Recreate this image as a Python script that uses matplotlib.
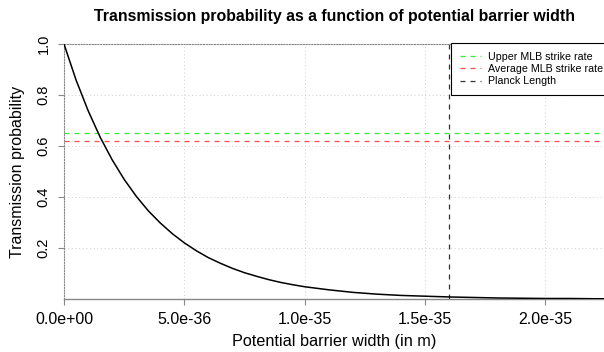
import matplotlib
matplotlib.use("Agg")
import matplotlib.pyplot as plt

# Curve values (width in m, transmission probability)
width_m = [0.0, 0.5e-36, 1.0e-36, 1.5e-36, 2.0e-36, 2.5e-36, 3.0e-36, 3.5e-36,
           4.0e-36, 4.5e-36, 5.0e-36, 5.5e-36, 6.0e-36, 6.5e-36, 7.0e-36,
           7.5e-36, 8.0e-36, 8.5e-36, 9.0e-36, 9.5e-36, 1.0e-35, 1.1e-35,
           1.2e-35, 1.3e-35, 1.4e-35, 1.5e-35, 1.6e-35, 1.7e-35, 1.8e-35,
           1.9e-35, 2.0e-35, 2.1e-35, 2.2e-35, 2.3e-35]
transmission = [1.000, 0.859, 0.739, 0.635, 0.546, 0.469, 0.403, 0.346,
                0.298, 0.256, 0.220, 0.189, 0.162, 0.140, 0.120,
                0.103, 0.089, 0.076, 0.065, 0.056, 0.048, 0.036,
                0.026, 0.019, 0.014, 0.011, 0.008, 0.006, 0.004,
                0.003, 0.002, 0.002, 0.001, 0.001]

upper_mlb = 0.65
average_mlb = 0.62
planck_length = 1.6e-35

xticks = [0.0, 5e-36, 1e-35, 1.5e-35, 2e-35]
xtick_labels = ["0.0e+00", "5.0e-36", "1.0e-35", "1.5e-35", "2.0e-35"]
yticks = [0.2, 0.4, 0.6, 0.8, 1.0]
ytick_labels = ["0.2", "0.4", "0.6", "0.8", "1.0"]

plt.rcParams['font.family'] = ['Liberation Sans', 'DejaVu Sans']

fig = plt.figure(figsize=(6.04, 3.52), dpi=100)
ax = fig.add_axes([64 / 604, 1 - 299 / 352, 540 / 604, 255 / 352])

grid_style = dict(color='#d3d3d3', linestyle=(0, (1, 2.5)), linewidth=0.75, zorder=0)
for x in xticks:
    ax.axvline(x, **grid_style)
for y in yticks:
    ax.axhline(y, **grid_style)

ax.plot(width_m, transmission, color='black', linewidth=1.1, zorder=3)

dash = (0, (4, 4))
ax.axhline(upper_mlb, color='#33ee33', linestyle=dash, linewidth=0.9,
           label='Upper MLB strike rate', zorder=2)
ax.axhline(average_mlb, color='#ff4d4d', linestyle=dash, linewidth=0.9,
           label='Average MLB strike rate', zorder=2)
ax.axvline(planck_length, color='#333333', linestyle=dash, linewidth=0.9,
           label='Planck Length', zorder=2)

ax.set_xlim(0, 2.243e-35)
ax.set_ylim(0, 1.0)

ax.set_xticks(xticks)
ax.set_xticklabels(xtick_labels, fontsize=11.5)
ax.set_yticks(yticks)
ax.set_yticklabels(ytick_labels, fontsize=10.5, rotation=90, va='center')
ax.tick_params(axis='both', color='#888888', length=4.3, width=0.8)
ax.tick_params(axis='x', pad=5)
ax.tick_params(axis='y', pad=5.5)

ax.spines['right'].set_visible(False)
for side in ['top', 'left']:
    ax.spines[side].set_color('#888888')
    ax.spines[side].set_linestyle((0, (1, 1.5)))
    ax.spines[side].set_linewidth(0.8)
ax.spines['bottom'].set_color('#888888')
ax.spines['bottom'].set_linewidth(1.0)

ax.set_xlabel('Potential barrier width (in m)', fontsize=11.7, va='center')
ax.xaxis.set_label_coords(0.5, (299 - 341.7) / 255)
ax.set_ylabel('Transmission probability', fontsize=11.5, va='center')
ax.yaxis.set_label_coords((18 - 64) / 540, 0.5)

ax.set_title('Transmission probability as a function of potential barrier width',
             fontsize=11.4, fontweight='bold', y=(299 - 17) / 255, va='center', pad=0)

# legend frame runs past the right edge of the figure, as in the original
leg = ax.legend(loc='upper left', bbox_to_anchor=(451 / 604, 1 - 43 / 352, 175 / 604, 0),
                bbox_transform=fig.transFigure, mode='expand', fontsize=7.7,
                frameon=True, fancybox=False, framealpha=1, edgecolor='black',
                borderaxespad=0, borderpad=0.8, handlelength=2.0,
                handletextpad=0.7, labelspacing=0.22)
leg.get_frame().set_linewidth(0.8)

fig.savefig('out.png', dpi=100)
